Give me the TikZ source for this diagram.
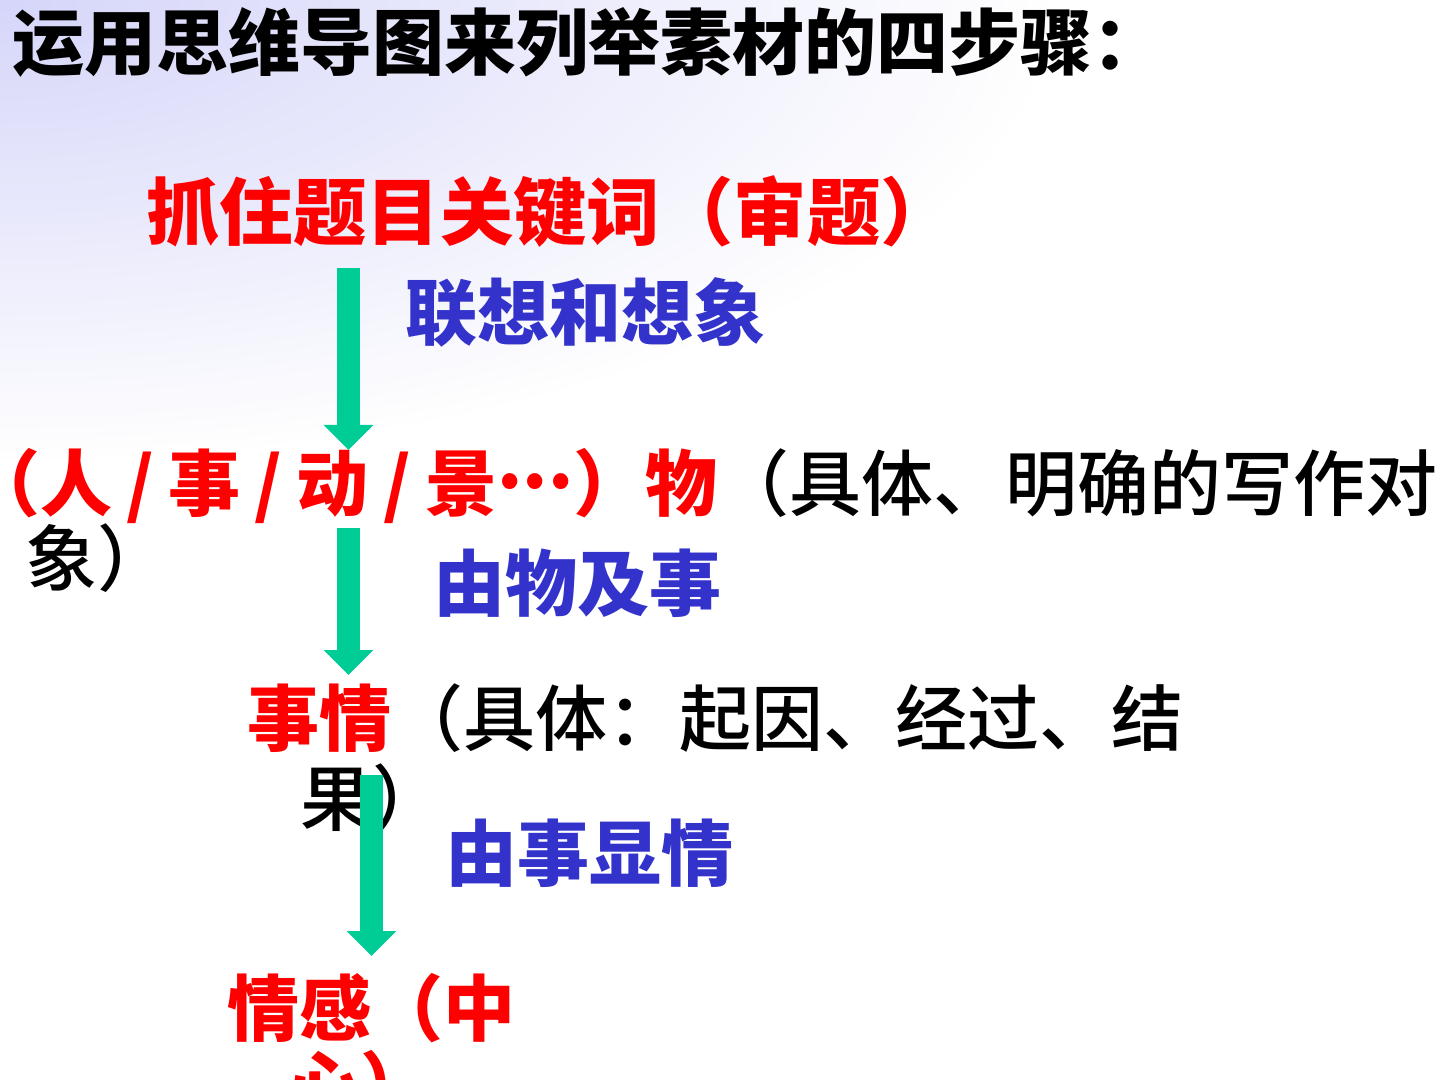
\documentclass[tikz,border=0pt]{standalone}
\usepackage{fontspec}
\newfontfamily\cjk{Noto Sans CJK SC}
\newfontfamily\cjkmed{Noto Sans CJK SC}[UprightFont={* Medium}]
\usetikzlibrary{arrows.meta,fadings}

\definecolor{lavender}{RGB}{214,214,250}
\definecolor{arrowgreen}{RGB}{0,204,150}
\definecolor{methodblue}{RGB}{51,51,204}
\tikzfading[name=cornerfade, inner color=transparent!0, outer color=transparent!100]
\newcommand\slashsep{\hspace{0.2em}/\hspace{0.2em}}
\newcommand\middots{\raisebox{0.3em}{...}}

\begin{document}
\begin{tikzpicture}[x=0.5pt,y=-0.5pt,
  txt/.style={anchor=base west,inner sep=0pt,font=\cjkmed\fontsize{36}{43}\selectfont},
  headline/.style={txt,font=\cjk\bfseries\fontsize{36}{43}\selectfont},
  keyword/.style={headline,text=red},
  method/.style={headline,text=methodblue},
  blockarrow/.style={draw=arrowgreen,line width=11.5pt,
    -{Triangle[width=24pt,length=12.5pt]}}]
  \useasboundingbox (0,0) rectangle (1440,1080);
  \clip (0,0) rectangle (1440,1080);
  \fill[white] (0,0) rectangle (1440,1080);
  \fill[lavender,path fading=cornerfade] (0,0) ellipse [x radius=1050,y radius=460];
  % steps
  \node[headline] (title) at (12,70) {运用思维导图来列举素材的四步骤：};
  \node[keyword,font=\cjk\bfseries\fontsize{36.7}{44}\selectfont] (topic) at (146,240)
    {抓住题目关键词（审题）};
  \node[method] (m1) at (405,340) {联想和想象};
  \node[keyword] (obj) at (0,510)
    {\kern-0.45em（人\slashsep 事\slashsep 动\slashsep 景\middots）物{\cjkmed\mdseries\color{black}（具体、明确的写作对}};
  \node[txt] (obj2) at (25,585) {象）};
  \node[method] (m2) at (433,610) {由物及事};
  \node[keyword] (event) at (247,745)
    {事情{\cjkmed\mdseries\color{black}（具体：起因、经过、结}};
  \node[txt] (event2) at (300,825) {果）};
  \node[method] (m3) at (445,880) {由事显情};
  \node[keyword] (emo) at (227,1035) {情感（中};
  \node[keyword] (emo2) at (288,1112) {心）};
  % arrows
  \coordinate (a1s) at (348.5,268);
  \coordinate (a1t) at (348.5,450);
  \coordinate (a2s) at (348.5,528);
  \coordinate (a2t) at (348.5,675);
  \coordinate (a3s) at (371.5,775);
  \coordinate (a3t) at (371.5,956);
  \draw[blockarrow] (a1s) -- (a1t);
  \draw[blockarrow] (a2s) -- (a2t);
  \draw[blockarrow] (a3s) -- (a3t);
\end{tikzpicture}
\end{document}
